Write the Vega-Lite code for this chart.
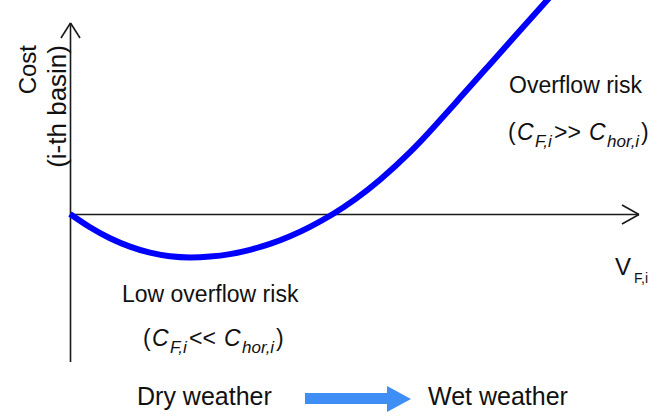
{
  "$schema": "https://vega.github.io/schema/vega-lite/v6.json",
  "width": 654,
  "height": 416,
  "padding": 0,
  "autosize": {"type": "fit", "contains": "padding"},
  "background": "white",
  "config": {"view": {"stroke": null}},
  "encoding": {
    "x": {"field": "x", "type": "quantitative", "scale": {"domain": [0, 654], "nice": false, "zero": false}, "axis": null},
    "y": {"field": "y", "type": "quantitative", "scale": {"domain": [0, 416], "nice": false, "zero": false, "reverse": true}, "axis": null}
  },
  "layer": [
    {
      "data": {"values": [
        {"x": 70, "y": 214.5, "x2": 639, "y2": 214.5},
        {"x": 622, "y": 205, "x2": 639, "y2": 214.5},
        {"x": 622, "y": 224, "x2": 639, "y2": 214.5},
        {"x": 70.5, "y": 362, "x2": 70.5, "y2": 23},
        {"x": 61, "y": 38, "x2": 70.5, "y2": 23},
        {"x": 80, "y": 38, "x2": 70.5, "y2": 23}
      ]},
      "mark": {"type": "rule", "color": "#1a1a1a", "strokeWidth": 1.6},
      "encoding": {"x2": {"field": "x2"}, "y2": {"field": "y2"}}
    },
    {
      "data": {"values": [
        {"x": 70, "y": 214}, {"x": 90, "y": 227.3}, {"x": 110, "y": 238.2}, {"x": 130, "y": 246.6},
        {"x": 150, "y": 252.7}, {"x": 170, "y": 256.3}, {"x": 190, "y": 257.5}, {"x": 210, "y": 256.6},
        {"x": 230, "y": 254.1}, {"x": 250, "y": 249.8}, {"x": 270, "y": 243.9}, {"x": 290, "y": 236.2},
        {"x": 310, "y": 226.8}, {"x": 333, "y": 214}, {"x": 355, "y": 199.4}, {"x": 380, "y": 179.8},
        {"x": 410, "y": 152.2}, {"x": 435, "y": 125.8}, {"x": 460, "y": 97.8}, {"x": 485, "y": 69.8},
        {"x": 510, "y": 41.8}, {"x": 535, "y": 13.8}, {"x": 550, "y": -3}
      ]},
      "mark": {"type": "line", "color": "#0000ff", "strokeWidth": 6, "interpolate": "natural", "clip": true}
    },
    {
      "data": {"values": [{"x": 305, "x2": 388, "y": 393, "y2": 404}]},
      "mark": {"type": "rect", "color": "#3f8ef5"},
      "encoding": {"x2": {"field": "x2"}, "y2": {"field": "y2"}}
    },
    {
      "data": {"values": [{"x": 387, "y": 386, "y2": 412}, {"x": 411, "y": 399, "y2": 399}]},
      "mark": {"type": "area", "color": "#3f8ef5"},
      "encoding": {"y2": {"field": "y2"}}
    },
    {
      "data": {"values": [
        {"t": "Cost", "x": 36, "y": 45}
      ]},
      "mark": {"type": "text", "angle": 270, "align": "right", "baseline": "alphabetic", "font": "Liberation Sans", "fontSize": 24, "color": "#111"},
      "encoding": {"text": {"field": "t"}}
    },
    {
      "data": {"values": [
        {"t": "(i-th basin)", "x": 66, "y": 45}
      ]},
      "mark": {"type": "text", "angle": 270, "align": "right", "baseline": "alphabetic", "font": "Liberation Sans", "fontSize": 26, "color": "#111"},
      "encoding": {"text": {"field": "t"}}
    },
    {
      "data": {"values": [
        {"t": "Dry weather", "x": 137, "y": 405},
        {"t": "Wet weather", "x": 428, "y": 405}
      ]},
      "mark": {"type": "text", "align": "left", "baseline": "alphabetic", "font": "Liberation Sans", "fontSize": 25, "color": "#111"},
      "encoding": {"text": {"field": "t"}}
    },
    {
      "data": {"values": [
        {"t": "Overflow risk", "x": 509, "y": 93},
        {"t": "Low overflow risk", "x": 122, "y": 302},
        {"t": "(", "x": 508, "y": 140},
        {"t": ">>", "x": 554, "y": 140},
        {"t": ")", "x": 641, "y": 140},
        {"t": "(", "x": 143, "y": 346},
        {"t": "<<", "x": 189, "y": 346},
        {"t": ")", "x": 276, "y": 346}
      ]},
      "mark": {"type": "text", "align": "left", "baseline": "alphabetic", "font": "Liberation Sans", "fontSize": 23, "color": "#111"},
      "encoding": {"text": {"field": "t"}}
    },
    {
      "data": {"values": [
        {"t": "C", "x": 517, "y": 140},
        {"t": "C", "x": 589, "y": 140},
        {"t": "C", "x": 152, "y": 346},
        {"t": "C", "x": 224, "y": 346}
      ]},
      "mark": {"type": "text", "align": "left", "baseline": "alphabetic", "font": "Liberation Sans", "fontStyle": "italic", "fontSize": 23, "color": "#111"},
      "encoding": {"text": {"field": "t"}}
    },
    {
      "data": {"values": [
        {"t": "F,i", "x": 535, "y": 147},
        {"t": "hor,i", "x": 607, "y": 147},
        {"t": "F,i", "x": 170, "y": 353},
        {"t": "hor,i", "x": 242, "y": 353}
      ]},
      "mark": {"type": "text", "align": "left", "baseline": "alphabetic", "font": "Liberation Sans", "fontStyle": "italic", "fontSize": 17, "color": "#111"},
      "encoding": {"text": {"field": "t"}}
    },
    {
      "data": {"values": [{"t": "V", "x": 615, "y": 275}]},
      "mark": {"type": "text", "align": "left", "baseline": "alphabetic", "font": "Liberation Sans", "fontSize": 24, "color": "#111"},
      "encoding": {"text": {"field": "t"}}
    },
    {
      "data": {"values": [{"t": "F,i", "x": 634, "y": 283}]},
      "mark": {"type": "text", "align": "left", "baseline": "alphabetic", "font": "Liberation Sans", "fontSize": 14, "color": "#111"},
      "encoding": {"text": {"field": "t"}}
    }
  ]
}
